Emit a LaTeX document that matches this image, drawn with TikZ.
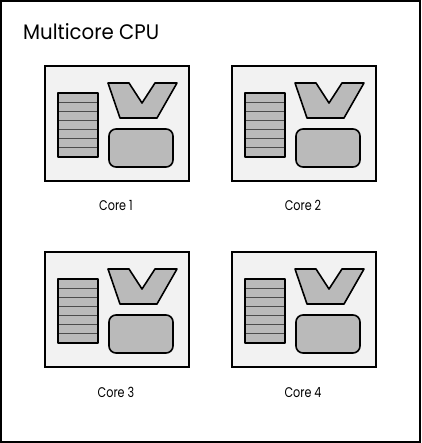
\documentclass[tikz,border=0pt]{standalone}
\usepackage{fontspec}
\setmainfont{Poppins}
\newfontfamily\titlefont{Poppins}[FakeStretch=0.94]
\newfontfamily\lblfont{Poppins}[FakeStretch=0.8]
\begin{document}
\begin{tikzpicture}[x=1pt,y=-1pt,
 frame/.style={draw=black,line width=1.5pt},
 corebox/.style={draw=black,line width=2.4pt,fill=black!5},
 part/.style={draw=black,line width=1.6pt,fill=black!27,line join=round},
 regline/.style={draw=black!70,line width=1pt},
 lbl/.style={font=\lblfont\fontsize{14}{16}\selectfont}]
\useasboundingbox (0,0) rectangle (421,443);
\draw[frame] (1,1) rectangle (420,442);
\node[anchor=base west,inner sep=0,font=\titlefont\fontsize{21}{25}\selectfont] (title) at (23,40) {Multicore CPU};
\foreach \i/\px/\py in {1/45/66,2/232/66,3/45/252,4/232/252}{
 \begin{scope}[shift={(\px,\py)}]
  \draw[corebox] (0,0) rectangle (144,115);
  \fill[black!27] (13,27) rectangle (53,91);
  \foreach \k in {1,...,6} \draw[regline] (13,27+\k*9.14) -- (53,27+\k*9.14);
  \draw[part,fill=none] (13,27) rectangle (53,91);
  \draw[part] (63,17) -- (84,17) -- (97,37) -- (110,17) -- (132,17) -- (112,52) -- (75,52) -- cycle;
  \draw[part,rounded corners=7pt] (64,63) rectangle (128,101);
  \node[lbl,anchor=base,inner sep=0] (core\i) at (71,145) {Core \i};
 \end{scope}
}
\end{tikzpicture}
\end{document}
